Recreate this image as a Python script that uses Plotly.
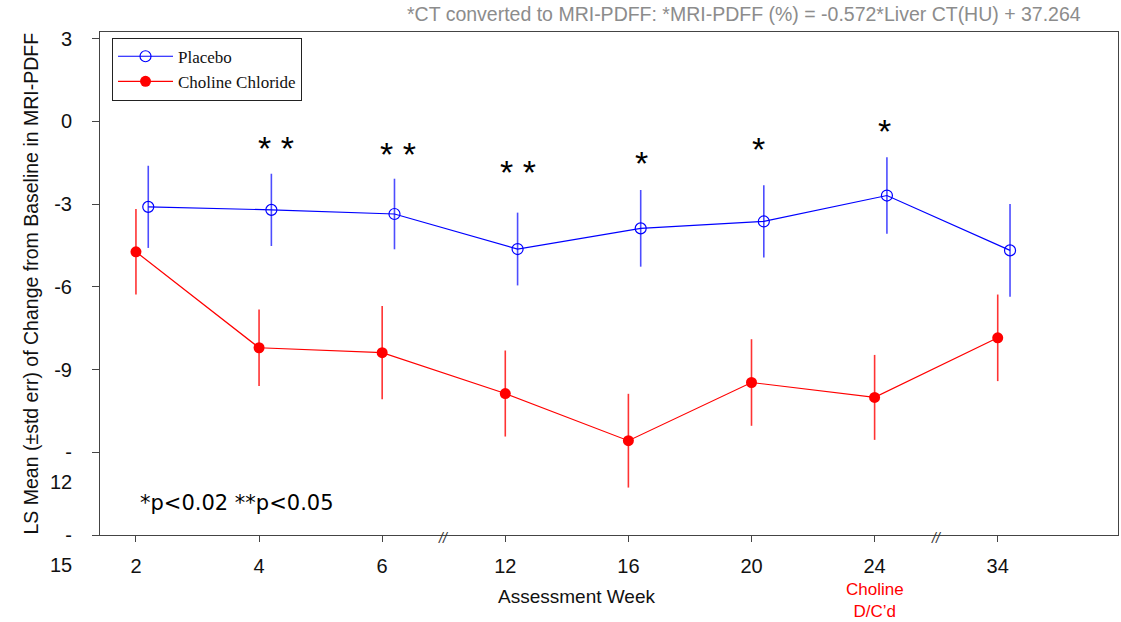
import plotly.graph_objects as go

# Assessment weeks (categorical positions on the x axis)
weeks = ["2", "4", "6", "12", "16", "20", "24", "34"]

# LS mean change from baseline in MRI-PDFF and its standard error
placebo_mean = [-3.10, -3.21, -3.36, -4.63, -3.88, -3.63, -2.69, -4.68]
placebo_se = [1.49, 1.31, 1.28, 1.32, 1.39, 1.31, 1.39, 1.68]
choline_mean = [-4.73, -8.21, -8.39, -9.87, -11.58, -9.47, -10.01, -7.85]
choline_se = [1.55, 1.39, 1.69, 1.56, 1.70, 1.57, 1.54, 1.57]

# significance markers per week
significance = ["", "* *", "* *", "* *", "*", "*", "*", ""]

# y axis ticks
y_ticks = [3, 0, -3, -6, -9, -12, -15]

# layout helpers (annotation placement)
STAR_X = [None, 1.14, 2.13, 3.10, 4.11, 5.06, 6.08, None]
STAR_Y = [None, -0.85, -1.06, -1.73, -1.39, -0.91, -0.24, None]
PLACEBO_DODGE = 0.1
BREAKS = [2.5, 6.5]
BLUE = "#0000ff"
RED = "#ff0000"
SANS = "Liberation Sans, Arial, sans-serif"
SERIF = "Liberation Serif, Times New Roman, serif"

idx = list(range(len(weeks)))

fig = go.Figure()

fig.add_trace(go.Scatter(
    x=[i + PLACEBO_DODGE for i in idx], y=placebo_mean,
    name="Placebo", mode="lines+markers",
    line=dict(color=BLUE, width=1.2),
    marker=dict(symbol="circle-open", size=11, color=BLUE, line=dict(width=1.2)),
    error_y=dict(type="data", array=placebo_se, visible=True,
                 color="#4d4dff", thickness=1.6, width=0),
))

fig.add_trace(go.Scatter(
    x=idx, y=choline_mean,
    name="Choline Chloride", mode="lines+markers",
    line=dict(color=RED, width=1.2),
    marker=dict(symbol="circle", size=11, color=RED),
    error_y=dict(type="data", array=choline_se, visible=True,
                 color="#ff3333", thickness=1.6, width=0),
))

annotations = []

# significance stars above the placebo error bars
for sig, sx, sy in zip(significance, STAR_X, STAR_Y):
    if sig:
        annotations.append(dict(
            x=sx, y=sy, xref="x", yref="y", text=sig,
            showarrow=False, yshift=-3,
            font=dict(family=SANS, size=34, color="#000"),
        ))

# broken y tick labels: the magnitude sits below the dash
for v in y_ticks:
    if v <= -12:
        annotations.append(dict(
            x=0, xref="paper", y=v, yref="y", text=str(abs(v)),
            showarrow=False, xanchor="right", xshift=-26, yshift=-30,
            font=dict(family=SANS, size=20, color="#111"),
        ))

# axis break marks
for b in BREAKS:
    annotations.append(dict(
        x=b, y=0, xref="x", yref="paper", text="<i>//</i>",
        showarrow=False, yanchor="middle", yshift=-3,
        font=dict(family=SANS, size=14, color="#333"),
    ))

annotations += [
    dict(x=0, xref="paper", xanchor="center", xshift=-70,
         y=0.5, yref="paper", yanchor="middle",
         text="LS Mean (±std err) of Change from Baseline in MRI-PDFF",
         textangle=-90, showarrow=False,
         font=dict(family=SANS, size=19.5, color="#111")),
    dict(x=3.58, xref="x", y=0, yref="paper", yanchor="middle", yshift=-61,
         text="Assessment Week", showarrow=False,
         font=dict(family=SANS, size=19, color="#111")),
    dict(x=6, xref="x", y=0, yref="paper", yanchor="top", yshift=-43,
         text="Choline<br>D/C’d", showarrow=False,
         font=dict(family=SANS, size=17, color=RED)),
    dict(x=0.0374, xref="paper", xanchor="left", y=0.0358, yref="paper",
         text="*p<0.02 **p<0.05", showarrow=False,
         font=dict(family="DejaVu Sans, sans-serif", size=21, color="#000")),
    dict(x=0.633, xref="paper", y=1, yref="paper", yanchor="bottom", yshift=5,
         text="*CT converted to MRI-PDFF: *MRI-PDFF (%) = -0.572*Liver CT(HU) + 37.264",
         showarrow=False,
         font=dict(family=SANS, size=19.5, color="#8c8c8c")),
]

fig.update_layout(
    width=1121, height=622,
    margin=dict(l=100, r=3, t=32, b=87),
    paper_bgcolor="white", plot_bgcolor="white",
    showlegend=True,
    legend=dict(
        x=0.0118, y=0.9887, xanchor="left", yanchor="top",
        bgcolor="white", bordercolor="#222", borderwidth=1,
        font=dict(family=SERIF, size=17, color="#111"),
        itemwidth=55, tracegroupgap=0,
    ),
    annotations=annotations,
)

fig.update_xaxes(
    range=[-0.292, 7.977], tickmode="array", tickvals=idx, ticktext=weeks,
    showline=True, linecolor="#444", linewidth=1, mirror=True,
    ticks="outside", ticklen=6, tickcolor="#444",
    ticklabelstandoff=7,
    showgrid=False, zeroline=False,
    tickfont=dict(family=SANS, size=20, color="#111"),
)

fig.update_yaxes(
    range=[-15, 3.24], tickmode="array", tickvals=y_ticks,
    ticktext=["-" if v <= -12 else str(v) for v in y_ticks],
    showline=True, linecolor="#444", linewidth=1, mirror=True,
    ticks="outside", ticklen=7, tickcolor="#444",
    ticklabelstandoff=16,
    showgrid=False, zeroline=False,
    tickfont=dict(family=SANS, size=20, color="#111"),
)

fig.write_html("out.html")
